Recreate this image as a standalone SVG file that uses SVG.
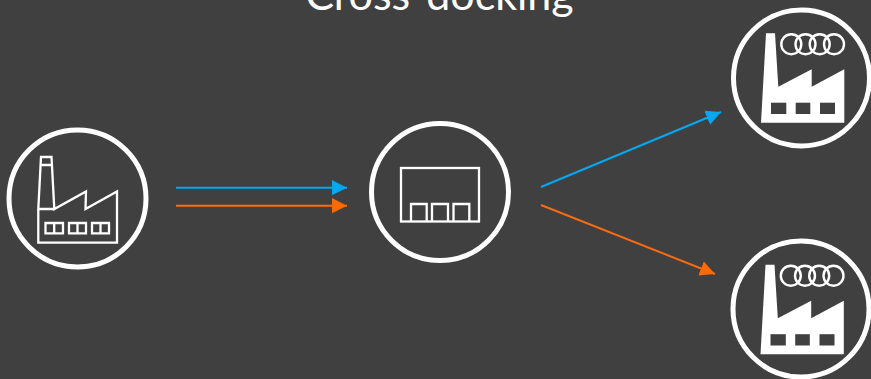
<svg xmlns="http://www.w3.org/2000/svg" width="871" height="379" viewBox="0 0 871 379">
<style>
.ring{fill:none;stroke:#fff;stroke-width:5}
.o{fill:none;stroke:#fff;stroke-width:2.3}
.f{fill:#fff}
.w{fill:#404040}
.r{fill:none;stroke:#fff;stroke-width:2.4}
.t{font-family:Lato,"Open Sans",sans-serif;font-size:43px;fill:#fff;text-anchor:middle}
.b{stroke:#00a9f1;stroke-width:2;fill:none;marker-end:url(#ab)}
.a{stroke:#f96b0f;stroke-width:2;fill:none;marker-end:url(#aa)}
</style>
<defs>
<marker id="ab" markerUnits="userSpaceOnUse" markerWidth="16" markerHeight="16" refX="15" refY="8" orient="auto"><path d="M0 0.4L15 8L0 15.6Z" fill="#00a9f1"/></marker>
<marker id="aa" markerUnits="userSpaceOnUse" markerWidth="16" markerHeight="16" refX="15" refY="8" orient="auto"><path d="M0 0.4L15 8L0 15.6Z" fill="#ff6a00"/></marker>
<g id="audi-factory">
<path class="f" d="M766 33.3H775L778.3 86.7L811.7 69.3V86.7L844.3 69.3V122.7H761Z"/>
<rect class="w" x="771" y="102.7" width="15.3" height="11.3"/>
<rect class="w" x="795.7" y="102.7" width="14.6" height="11.3"/>
<rect class="w" x="820" y="102.7" width="15" height="11.3"/>
<circle class="r" cx="791.3" cy="44.2" r="10"/>
<circle class="r" cx="805.5" cy="44.2" r="10"/>
<circle class="r" cx="819.7" cy="44.2" r="10"/>
<circle class="r" cx="834" cy="44.2" r="10"/>
</g>
</defs>
<rect width="871" height="379" fill="#404040"/>
<text id="title" class="t" x="439.5" y="10">Cross-docking</text>
<g id="connectors">
<path class="b" d="M176 187.7H347"/>
<path class="a" d="M176 205.7H347"/>
<path class="b" d="M541 187L721 112"/>
<path class="a" d="M541 205L715 274"/>
</g>
<g id="supplier">
<circle class="ring" cx="77.5" cy="198.5" r="68.5"/>
<path class="o" d="M38.3 209L41 157H51.5L54.3 209L86 191.5L85.5 209L117 191.5V242.7H38.3Z"/>
<path class="o" d="M40.5 165H52M38.3 209H54.3"/>
<path class="o" d="M45.5 223H63V233.3H45.5ZM54.2 223V233.3M69 223H86V233.3H69ZM77.5 223V233.3M92 223H109V233.3H92ZM100.5 223V233.3"/>
</g>
<g id="warehouse">
<circle class="ring" cx="440" cy="192" r="68.5"/>
<rect class="o" x="401" y="168" width="78" height="53.5"/>
<path class="o" d="M411 221.5V204H426.7V221.5M432 221.5V204H448V221.5M453.5 221.5V204H469.3V221.5"/>
</g>
<g id="plant-top">
<circle class="ring" cx="801.5" cy="78" r="68"/>
<use href="#audi-factory"/>
</g>
<g id="plant-bottom">
<circle class="ring" cx="801" cy="309" r="68"/>
<use href="#audi-factory" transform="translate(-0.5 231.5)"/>
</g>
</svg>
